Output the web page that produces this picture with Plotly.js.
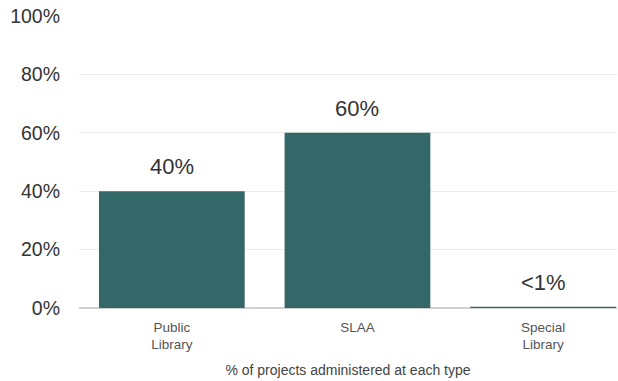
<!DOCTYPE html>
<html><head><meta charset="utf-8">
<script src="https://cdn.plot.ly/plotly-3.0.1.min.js"></script>
<style>html,body{margin:0;padding:0;background:#fff}</style>
</head><body><div id="chart" style="width:618px;height:381px"></div>
<script>
const categories = ["Public<br>Library", "SLAA", "Special<br>Library"];
const values = [40, 60, 0.4];
const valueLabels = ["40%", "60%", "<1%"];
const yTickVals = [0, 20, 40, 60, 80, 100];
const yTickText = ["0%", "20%", "40%", "60%", "80%", "100%"];

const font = "'Liberation Sans', Arial, sans-serif";
Plotly.newPlot("chart", [{
  type: "bar",
  x: [0, 1, 2],
  y: values,
  marker: {color: "#346767"},
  hoverinfo: "none"
}], {
  width: 618, height: 381,
  margin: {l: 79, r: 1, t: 16, b: 73},
  paper_bgcolor: "#fff", plot_bgcolor: "#fff",
  bargap: 0.215,
  showlegend: false,
  font: {family: font, color: "#333"},
  xaxis: {
    range: [-0.5, 2.398],
    tickvals: [0, 1, 2], ticktext: categories,
    tickfont: {size: 13.5, color: "#555"},
    showgrid: false, zeroline: false, showline: false,
    ticks: "", ticklen: 0, ticklabelstandoff: 9,
    title: {text: "% of projects administered at each type", font: {size: 14, color: "#444"}, standoff: 14}
  },
  yaxis: {
    range: [0, 100], tickvals: yTickVals, ticktext: yTickText,
    tickfont: {size: 19.5, color: "#333"},
    showgrid: true, gridcolor: "#ececec", gridwidth: 1,
    zeroline: true, zerolinecolor: "#d0d0d0", zerolinewidth: 2,
    ticks: "", ticklabelstandoff: 18
  },
  annotations: values.map((v, i) => ({
    x: i, y: v, xref: "x", yref: "y",
    text: valueLabels[i], showarrow: false,
    yanchor: "bottom", yshift: 10,
    font: {size: 22, color: "#333", family: font}
  }))
}, {displayModeBar: false, staticPlot: true});
</script></body></html>
